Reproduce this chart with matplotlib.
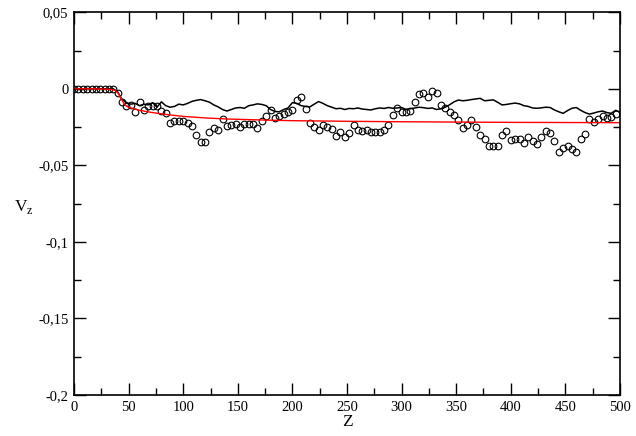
import numpy as np
import matplotlib
matplotlib.use("Agg")
import matplotlib.pyplot as plt
from matplotlib.ticker import MultipleLocator, FuncFormatter

plt.rcParams["font.family"] = ["Liberation Serif", "DejaVu Serif"]
plt.rcParams["mathtext.fontset"] = "custom"
plt.rcParams["mathtext.rm"] = "Liberation Serif"
plt.rcParams["axes.unicode_minus"] = False

# circles (every 4 in z)
circ_z = np.arange(0, 497, 4)
circ_v = [
    0, 0, 0, 0, 0, 0, 0, 0, 0, 0,
    -0.0028, -0.0089, -0.0115, -0.0104, -0.0154, -0.0089, -0.0141, -0.0111,
    -0.0115, -0.0115, -0.0148, -0.0158, -0.0220, -0.0207, -0.0207,
    -0.0210, -0.0220, -0.0245, -0.0300, -0.0350, -0.0347, -0.0284, -0.0256,
    -0.0271, -0.0197, -0.0245, -0.0234, -0.0228, -0.0252, -0.0228, -0.0230,
    -0.0228, -0.0256, -0.0213, -0.0180, -0.0137, -0.0191, -0.0176, -0.0163,
    -0.0152, -0.0135,
    -0.0072, -0.0056, -0.0130, -0.0224, -0.0252, -0.0271, -0.0234, -0.0250,
    -0.0260, -0.0310, -0.0282, -0.0315, -0.0290, -0.0234, -0.0271, -0.0278,
    -0.0267, -0.0284, -0.0284, -0.0282, -0.0267, -0.0239, -0.0169, -0.0126,
    -0.0153,
    -0.0152, -0.0143, -0.0089, -0.0033, -0.0028, -0.0054, -0.0011, -0.0024,
    -0.0108, -0.0126, -0.0154, -0.0174, -0.0202, -0.0256, -0.0234, -0.0206,
    -0.0250, -0.0304, -0.0326, -0.0375, -0.0375, -0.0375, -0.0304, -0.0273,
    -0.0332,
    -0.0328, -0.0328, -0.0354, -0.0317, -0.0343, -0.0360, -0.0315, -0.0278,
    -0.0289, -0.0339, -0.0412, -0.0386, -0.0371, -0.0390, -0.0412, -0.0326,
    -0.0295, -0.0197, -0.0217, -0.0195, -0.0180, -0.0191, -0.0187, -0.0165,
]

# black line (every 4 in z)
line_z = np.arange(0, 501, 4)
line_v = [
    0, 0.0001, 0, 0.0002, 0.0001, 0, 0.0001, 0, -0.0001, 0,
    -0.0020, -0.0070, -0.0090, -0.0100, -0.0095, -0.0110, -0.0100, -0.0105,
    -0.0090, -0.0120, -0.0085, -0.0110, -0.0120, -0.0115, -0.0100,
    -0.0105, -0.0095, -0.0082, -0.0075, -0.0070, -0.0078, -0.0087, -0.0105,
    -0.0118, -0.0135, -0.0145, -0.0135, -0.0125, -0.0122, -0.0127, -0.0110,
    -0.0105, -0.0098, -0.0102, -0.0110, -0.0135, -0.0148, -0.0150, -0.0135,
    -0.0125, -0.0090,
    -0.0095, -0.0110, -0.0115, -0.0118, -0.0100, -0.0083, -0.0095, -0.0110,
    -0.0120, -0.0130, -0.0127, -0.0135, -0.0128, -0.0130, -0.0125, -0.0132,
    -0.0135, -0.0138, -0.0130, -0.0125, -0.0128, -0.0122, -0.0127, -0.0125,
    -0.0122,
    -0.0135, -0.0130, -0.0125, -0.0120, -0.0123, -0.0128, -0.0125, -0.0135,
    -0.0130, -0.0120, -0.0104, -0.0085, -0.0073, -0.0078, -0.0075, -0.0070,
    -0.0066, -0.0062, -0.0078, -0.0075, -0.0072, -0.0088, -0.0105, -0.0102,
    -0.0097,
    -0.0093, -0.0098, -0.0110, -0.0115, -0.0125, -0.0127, -0.0124, -0.0120,
    -0.0122, -0.0138, -0.0150, -0.0160, -0.0142, -0.0127, -0.0122, -0.0140,
    -0.0155, -0.0165, -0.0158, -0.0150, -0.0145, -0.0155, -0.0160, -0.0140,
    -0.0152,
]

# red fit curve
fit_z = [0, 10, 20, 30, 36, 38, 40, 42, 44, 46, 48, 50, 55, 60, 70, 80, 90,
         100, 120, 140, 160, 180, 200, 250, 300, 350, 400, 450, 500]
fit_v = [0, 0, 0, -0.0002, -0.0006, -0.0012, -0.0025, -0.0048, -0.0075,
         -0.0098, -0.0112, -0.0120, -0.0130, -0.0140, -0.0153, -0.0163,
         -0.0172, -0.0180, -0.0190, -0.0197, -0.0201, -0.0205, -0.0208,
         -0.0212, -0.0215, -0.0217, -0.0219, -0.0220, -0.0221]

fig = plt.figure(figsize=(6.36, 4.36), dpi=100)
ax = fig.add_axes([0.1164, 0.094, 0.8584, 0.8778])

ax.plot(line_z, line_v, color="black", lw=1.1)
ax.plot(circ_z, circ_v, "o", mfc="none", mec="black", ms=4.8, mew=0.8)
ax.plot(fit_z, fit_v, color="red", lw=1.0)

ax.set_xlim(0, 500)
ax.set_ylim(-0.2, 0.05)
ax.xaxis.set_major_locator(MultipleLocator(50))
ax.xaxis.set_minor_locator(MultipleLocator(25))
ax.yaxis.set_major_locator(MultipleLocator(0.05))
ax.yaxis.set_minor_locator(MultipleLocator(0.025))
ax.yaxis.set_major_formatter(FuncFormatter(lambda v, p: ("%g" % round(v, 3)).replace(".", ",")))

ax.tick_params(which="both", direction="in", top=True, right=True, width=1, labelsize=10.5, pad=4)
ax.tick_params(which="major", length=8.5)
ax.tick_params(which="minor", length=4.8)
for s in ax.spines.values():
    s.set_linewidth(1.2)

ax.set_xlabel("Z", fontsize=12.5, labelpad=0)
ax.set_ylabel(r"V$_{\rm z}$", fontsize=12.5, rotation=0, va="center", ha="center")
ax.yaxis.set_label_coords(-0.092, 0.49)

fig.savefig("out.png", dpi=100)
